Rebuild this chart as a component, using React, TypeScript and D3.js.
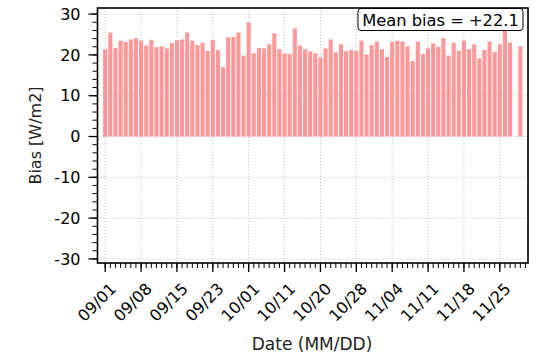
import React from "react";
import * as d3 from "d3";

const biasValues: (number | null)[] = [
  21.4, 25.5, 21.7, 23.5, 23.2, 23.8, 24.1, 23.5, 22.3, 23.7, 21.9, 22.1, 21.6, 22.9,
  23.6, 23.8, 25.5, 23.5, 22.4, 23.0, 21.0, 23.7, 21.2, 17.0, 24.3, 24.4, 25.5, 19.8,
  28.0, 20.4, 21.7, 21.6, 22.6, 25.3, 21.4, 20.3, 20.2, 26.5, 22.3, 21.4, 20.9, 20.4,
  19.4, 21.6, 23.8, 20.6, 22.6, 20.9, 21.2, 21.0, 23.5, 20.1, 22.4, 23.3, 21.4, 19.5,
  23.2, 23.5, 23.3, 22.1, 18.5, 23.3, 20.2, 21.6, 22.8, 22.0, 24.1, 19.8, 23.0, 21.0,
  23.5, 21.4, 22.6, 19.2, 21.2, 23.3, 20.8, 22.6, 26.7, 23.0, null, 22.1,
];
const tickIndices = [0, 7, 14, 21, 28, 35, 42, 49, 56, 63, 70, 77];
const tickLabels = ["09/01", "09/08", "09/15", "09/23", "10/01", "10/11", "10/20", "10/28", "11/04", "11/11", "11/18", "11/25"];
const yTicks = [-30, -20, -10, 0, 10, 20, 30];
const meanText = "Mean bias = +22.1";

const W = 536, H = 357;
const L = 97.5, R = 528, T = 8, B = 263;
const FONT = "DejaVu Sans";

export default function App() {
  const x = d3.scaleLinear().domain([-1.5, 82.5]).range([L, R]);
  const y = d3.scaleLinear().domain([-31, 31.5]).range([B, T]);
  const bw = (x(1) - x(0)) * 0.8;
  const minorX = d3.range(0, 83);
  const minorY = d3.range(-30, 31, 2);
  return (
    <svg width={W} height={H} style={{ position: "absolute", left: 0, top: 0, background: "#fff" }} fontFamily={FONT}>
      {/* grid */}
      {tickIndices.map((i) => (
        <line key={"gx" + i} x1={x(i)} x2={x(i)} y1={T} y2={B} stroke="#b0b0b0" strokeWidth={0.8} strokeDasharray="1,2" />
      ))}
      {yTicks.map((v) => (
        <line key={"gy" + v} x1={L} x2={R} y1={y(v)} y2={y(v)} stroke="#b0b0b0" strokeWidth={0.8} strokeDasharray="1,2" />
      ))}
      {/* bars */}
      {biasValues.map((v, i) =>
        v == null ? null : (
          <rect key={"b" + i} x={x(i) - bw / 2} width={bw} y={y(Math.max(0, v))} height={Math.abs(y(v) - y(0))} fill="#ff9999" />
        )
      )}
      {/* y ticks */}
      {minorY.map((v) => (
        <line key={"my" + v} x1={L - 5} x2={L} y1={y(v)} y2={y(v)} stroke="#000" strokeWidth={1} />
      ))}
      {yTicks.map((v) => (
        <g key={"ty" + v}>
          <line x1={L - 9} x2={L} y1={y(v)} y2={y(v)} stroke="#000" strokeWidth={1.3} />
          <text x={L - 17} y={y(v)} dy="0.36em" textAnchor="end" fontSize={16} fill="#000">{v}</text>
        </g>
      ))}
      {/* x ticks */}
      {minorX.map((i) => (
        <line key={"mx" + i} x1={x(i)} x2={x(i)} y1={B} y2={B + 5} stroke="#000" strokeWidth={1} />
      ))}
      {tickIndices.map((i, k) => (
        <g key={"tx" + i}>
          <line x1={x(i)} x2={x(i)} y1={B} y2={B + 9} stroke="#000" strokeWidth={1.3} />
          <text transform={`translate(${x(i) + 4},${B + 19}) rotate(-45)`} textAnchor="end" dy="0.7em" fontSize={16} fill="#000">{tickLabels[k]}</text>
        </g>
      ))}
      {/* frame */}
      <rect x={L} y={T} width={R - L} height={B - T} fill="none" stroke="#000" strokeWidth={1.6} />
      {/* labels */}
      <text transform={`translate(41,${(T + B) / 2}) rotate(-90)`} textAnchor="middle" fontSize={16} fill="#222">Bias [W/m2]</text>
      <text x={312} y={350} textAnchor="middle" fontSize={17} fill="#222">Date (MM/DD)</text>
      {/* mean box */}
      <rect x={358} y={8.5} width={165} height={22} rx={3} fill="#fff" stroke="#000" strokeWidth={1} />
      <text x={440.5} y={25.5} textAnchor="middle" fontSize={16.3} fill="#000">{meanText}</text>
    </svg>
  );
}
